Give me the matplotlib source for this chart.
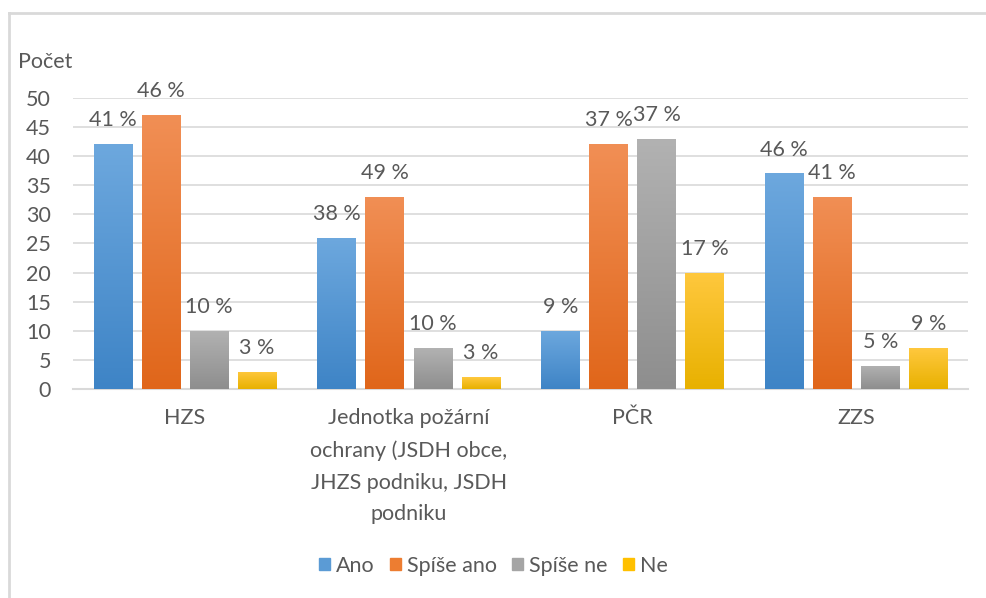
import matplotlib

matplotlib.use("Agg")
import matplotlib.pyplot as plt
import numpy as np
from matplotlib.colors import LinearSegmentedColormap
from matplotlib.lines import Line2D

plt.rcParams["font.family"] = ["Lato", "DejaVu Sans"]

categories = [
    "HZS",
    "Jednotka požární\nochrany (JSDH obce,\nJHZS podniku, JSDH\npodniku",
    "PČR",
    "ZZS",
]
series = ["Ano", "Spíše ano", "Spíše ne", "Ne"]
counts = {
    "Ano": [42, 26, 10, 37],
    "Spíše ano": [47, 33, 42, 33],
    "Spíše ne": [10, 7, 43, 4],
    "Ne": [3, 2, 20, 7],
}
percents = {
    "Ano": [41, 38, 9, 46],
    "Spíše ano": [46, 49, 37, 41],
    "Spíše ne": [10, 10, 37, 5],
    "Ne": [3, 3, 17, 9],
}
yticks = [0, 5, 10, 15, 20, 25, 30, 35, 40, 45, 50]

# (top, bottom) colours of the gradient fill
colours = {
    "Ano": ("#6DA8DE", "#3E84C6"),
    "Spíše ano": ("#F18F55", "#E0661A"),
    "Spíše ne": ("#B2B2B2", "#8E8E8E"),
    "Ne": ("#FFC83E", "#E8B100"),
}
solid = {"Ano": "#5B9BD5", "Spíše ano": "#ED7D31", "Spíše ne": "#A5A5A5", "Ne": "#FFC000"}

TXT = "#595959"
GRID = "#D9D9D9"
FS = 15.5

fig = plt.figure(figsize=(9.87, 5.98), dpi=100)
ax = fig.add_axes([0.074, 0.3495, 0.907, 0.487])

x = np.arange(len(categories))
step = 0.215
width = 0.172
grad = np.linspace(1, 0, 256).reshape(-1, 1)

for i, s in enumerate(series):
    pos = x + (i - 1.5) * step
    bars = ax.bar(pos, counts[s], width, color=solid[s], zorder=2, linewidth=0)
    cmap = LinearSegmentedColormap.from_list(s, [colours[s][1], colours[s][0]])
    for b, p in zip(bars, percents[s]):
        x0, h = b.get_x(), b.get_height()
        im = ax.imshow(grad, extent=[x0, x0 + b.get_width(), 0, h], aspect="auto",
                       cmap=cmap, vmin=0, vmax=1, origin="upper", zorder=3)
        im.set_clip_path(b)
        ax.annotate(f"{p} %", (x0 + b.get_width() / 2, h), xytext=(0, 10),
                    textcoords="offset points", ha="center", va="bottom",
                    fontsize=FS, color=TXT, annotation_clip=False)

ax.set_xlim(-0.5, len(categories) - 0.5)
ax.set_ylim(0, 50)
ax.set_yticks(yticks)
ax.set_xticks(x)
ax.set_xticklabels(categories, linespacing=1.72)
ax.tick_params(axis="both", length=0, labelsize=FS, colors=TXT)
ax.tick_params(axis="x", pad=14)
ax.tick_params(axis="y", pad=16)
ax.yaxis.grid(True, color=GRID, linewidth=1.2, zorder=0)
ax.set_axisbelow(True)
for side in ("top", "right", "left"):
    ax.spines[side].set_visible(False)
ax.spines["bottom"].set_color(GRID)
ax.spines["bottom"].set_linewidth(1.5)

fig.text(18 / 987, 1 - 62 / 598, "Počet", fontsize=FS, color=TXT, va="center", ha="left")

handles = [plt.Rectangle((0, 0), 1, 1, color=solid[s]) for s in series]
fig.legend(handles, series, loc="center", bbox_to_anchor=(0.5, 1 - 566 / 598), ncol=4,
           frameon=False, fontsize=FS, handlelength=0.5, handleheight=0.5,
           handletextpad=0.3, columnspacing=0.7, labelcolor=TXT)

# chart-area border (only left and top edges visible in the crop)
fig.add_artist(Line2D([9 / 987, 9 / 987], [0, 1 - 13 / 598], transform=fig.transFigure,
                      color=GRID, linewidth=2))
fig.add_artist(Line2D([9 / 987, 1], [1 - 13 / 598, 1 - 13 / 598], transform=fig.transFigure,
                      color=GRID, linewidth=2))

fig.savefig("out.png", dpi=100)
